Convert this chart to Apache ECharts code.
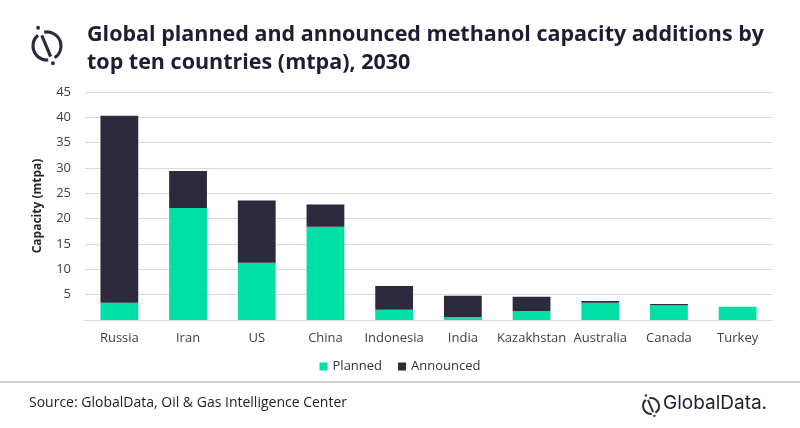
<!DOCTYPE html>
<html>
<head>
<meta charset="utf-8">
<script src="https://cdn.jsdelivr.net/npm/echarts@6/dist/echarts.min.js"></script>
<style>
  html, body { margin: 0; padding: 0; background: #fff; }
  #chart { width: 800px; height: 428px; }
</style>
</head>
<body>
<div id="chart"></div>
<script>
// top ten countries, mtpa, 2030
var countries = ['Russia', 'Iran', 'US', 'China', 'Indonesia', 'India', 'Kazakhstan', 'Australia', 'Canada', 'Turkey'];
var planned = [3.4, 22.1, 11.3, 18.4, 2.0, 0.6, 1.8, 3.4, 2.9, 2.6];
var announced = [36.9, 7.3, 12.3, 4.4, 4.7, 4.2, 2.8, 0.35, 0.25, 0];
var yTicks = [0, 5, 10, 15, 20, 25, 30, 35, 40, 45];

var dark = '#2d2a3e';
var green = '#00dfa4';
var font = '"Open Sans", sans-serif';

// small GlobalData ring logo
function logo(cx, cy, r, w) {
    var d = Math.PI / 180;
    var a1 = 244 * d, a2 = 71 * d;
    return [
        { type: 'arc', shape: { cx: cx, cy: cy, r: r, startAngle: -102 * d, endAngle: 57 * d }, style: { stroke: dark, lineWidth: w, fill: null } },
        { type: 'arc', shape: { cx: cx, cy: cy, r: r, startAngle: 85 * d, endAngle: 230 * d }, style: { stroke: dark, lineWidth: w, fill: null } },
        { type: 'line', shape: { x1: cx + r * 0.85 * Math.cos(a1), y1: cy + r * 0.85 * Math.sin(a1), x2: cx + r * 0.8 * Math.cos(a2), y2: cy + r * 0.8 * Math.sin(a2) }, style: { stroke: dark, lineWidth: w } },
        { type: 'circle', shape: { cx: cx + r * 1.45 * Math.cos(a1), cy: cy + r * 1.45 * Math.sin(a1), r: w * 0.6 }, style: { fill: dark } },
        { type: 'circle', shape: { cx: cx + r * 1.3 * Math.cos(a2), cy: cy + r * 1.3 * Math.sin(a2), r: w * 0.6 }, style: { fill: dark } }
    ];
}

var chart = echarts.init(document.getElementById('chart'));

var option = {
    backgroundColor: '#fff',
    animation: false,
    textStyle: { fontFamily: font },
    title: {
        text: 'Global planned and announced methanol capacity additions by\ntop ten countries (mtpa), 2030',
        left: 82,
        top: 16,
        textStyle: { fontFamily: font, fontSize: 21.5, fontWeight: 'bold', color: '#1f1d33', lineHeight: 28 }
    },
    legend: {
        data: ['Planned', 'Announced'],
        left: 'center',
        top: 355,
        icon: 'rect',
        itemWidth: 8,
        itemHeight: 8,
        itemGap: 16,
        textStyle: { fontFamily: font, fontSize: 13, color: '#333' }
    },
    grid: { left: 85, right: 28, top: 92, bottom: 108 },
    xAxis: {
        type: 'category',
        data: countries,
        axisLine: { lineStyle: { color: '#d9d9d9' } },
        axisTick: { show: false },
        axisLabel: { fontSize: 13, color: '#404040', margin: 12, interval: 0 }
    },
    yAxis: {
        type: 'value',
        min: yTicks[0],
        max: yTicks[yTicks.length - 1],
        interval: 5,
        name: 'Capacity (mtpa)',
        nameLocation: 'middle',
        nameGap: 41,
        nameTextStyle: { fontFamily: font, fontSize: 12, fontWeight: 'bold', color: '#262626' },
        axisLine: { show: false },
        axisTick: { show: false },
        splitLine: { lineStyle: { color: '#d9d9d9' } },
        axisLabel: {
            fontSize: 13, color: '#404040', margin: 14,
            formatter: function (v) { return v === 0 ? '' : v; }
        }
    },
    series: [
        {
            name: 'Planned', type: 'bar', stack: 'cap', barWidth: '55%',
            itemStyle: { color: green }, data: planned
        },
        {
            name: 'Announced', type: 'bar', stack: 'cap', barWidth: '55%',
            itemStyle: { color: dark }, data: announced
        }
    ],
    graphic: logo(47, 46, 14, 3.2).concat(logo(651, 406, 8, 2)).concat([
        { type: 'line', shape: { x1: 0, y1: 382, x2: 800, y2: 382 }, style: { stroke: '#a6a6a6', lineWidth: 1 } },
        { type: 'text', left: 29, top: 396, style: { text: 'Source: GlobalData, Oil & Gas Intelligence Center', font: '14px ' + font, fill: '#222' } },
        { type: 'text', left: 663, top: 394, style: { text: 'GlobalData.', font: '19px Inter, sans-serif', fill: '#1f1d33' } }
    ])
};

chart.setOption(option);
</script>
</body>
</html>
